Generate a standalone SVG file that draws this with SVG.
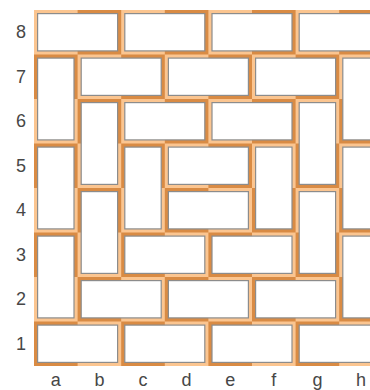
<svg xmlns="http://www.w3.org/2000/svg" width="370" height="390" viewBox="0 0 370 390">
  <defs>
    <pattern id="board" patternUnits="userSpaceOnUse" x="34" y="10" width="87.2" height="89">
      <rect x="0" y="0" width="87.2" height="89" fill="#fbc590"/>
      <rect x="43.6" y="0" width="43.6" height="44.5" fill="#d98b44"/>
      <rect x="0" y="44.5" width="43.6" height="44.5" fill="#d98b44"/>
    </pattern>
  </defs>
  <style>
    .lbl { font-family: "Liberation Sans", Arial, sans-serif; font-size: 18px; fill: #474747; text-anchor: middle; }
    .h { fill: #ffffff; stroke: #8c8c8c; stroke-width: 1.2; }
    .v { fill: #ffffff; stroke: #8c8c8c; stroke-width: 1.2; }
  </style>
  <rect id="board-bg" x="34" y="10" width="348.8" height="356" fill="url(#board)"/>
  <g id="rank-labels">
    <text class="lbl" x="21" y="38">8</text>
    <text class="lbl" x="21" y="82.5">7</text>
    <text class="lbl" x="21" y="127">6</text>
    <text class="lbl" x="21" y="171.5">5</text>
    <text class="lbl" x="21" y="216">4</text>
    <text class="lbl" x="21" y="260.5">3</text>
    <text class="lbl" x="21" y="305">2</text>
    <text class="lbl" x="21" y="349.5">1</text>
  </g>
  <g id="file-labels">
    <text class="lbl" x="55.8" y="386">a</text>
    <text class="lbl" x="99.4" y="386">b</text>
    <text class="lbl" x="143" y="386">c</text>
    <text class="lbl" x="186.6" y="386">d</text>
    <text class="lbl" x="230.2" y="386">e</text>
    <text class="lbl" x="273.8" y="386">f</text>
    <text class="lbl" x="317.4" y="386">g</text>
    <text class="lbl" x="361" y="386">h</text>
  </g>
  <g id="connectors"/>
  <g id="dominoes">
    <g id="a8-b8"><rect class="h" x="37.6" y="13.6" width="80" height="37.3"/></g>
    <g id="c8-d8"><rect class="h" x="124.8" y="13.6" width="80" height="37.3"/></g>
    <g id="e8-f8"><rect class="h" x="212" y="13.6" width="80" height="37.3"/></g>
    <g id="g8-h8"><rect class="h" x="299.2" y="13.6" width="80" height="37.3"/></g>

    <g id="a7-a6"><rect class="v" x="37.6" y="58.1" width="36.4" height="81.8"/></g>
    <g id="b7-c7"><rect class="h" x="81.2" y="58.1" width="80" height="37.3"/></g>
    <g id="d7-e7"><rect class="h" x="168.4" y="58.1" width="80" height="37.3"/></g>
    <g id="f7-g7"><rect class="h" x="255.6" y="58.1" width="80" height="37.3"/></g>
    <g id="h7-h6"><rect class="v" x="342.8" y="58.1" width="36.4" height="81.8"/></g>

    <g id="b6-b5"><rect class="v" x="81.2" y="102.6" width="36.4" height="81.8"/></g>
    <g id="c6-d6"><rect class="h" x="124.8" y="102.6" width="80" height="37.3"/></g>
    <g id="e6-f6"><rect class="h" x="212" y="102.6" width="80" height="37.3"/></g>
    <g id="g6-g5"><rect class="v" x="299.2" y="102.6" width="36.4" height="81.8"/></g>

    <g id="a5-a4"><rect class="v" x="37.6" y="147.1" width="36.4" height="81.8"/></g>
    <g id="c5-c4"><rect class="v" x="124.8" y="147.1" width="36.4" height="81.8"/></g>
    <g id="d5-e5"><rect class="h" x="168.4" y="147.1" width="80" height="37.3"/></g>
    <g id="f5-f4"><rect class="v" x="255.6" y="147.1" width="36.4" height="81.8"/></g>
    <g id="h5-h4"><rect class="v" x="342.8" y="147.1" width="36.4" height="81.8"/></g>

    <g id="b4-b3"><rect class="v" x="81.2" y="191.6" width="36.4" height="81.8"/></g>
    <g id="d4-e4"><rect class="h" x="168.4" y="191.6" width="80" height="37.3"/></g>
    <g id="g4-g3"><rect class="v" x="299.2" y="191.6" width="36.4" height="81.8"/></g>

    <g id="a3-a2"><rect class="v" x="37.6" y="236.1" width="36.4" height="81.8"/></g>
    <g id="c3-d3"><rect class="h" x="124.8" y="236.1" width="80" height="37.3"/></g>
    <g id="e3-f3"><rect class="h" x="212" y="236.1" width="80" height="37.3"/></g>
    <g id="h3-h2"><rect class="v" x="342.8" y="236.1" width="36.4" height="81.8"/></g>

    <g id="b2-c2"><rect class="h" x="81.2" y="280.6" width="80" height="37.3"/></g>
    <g id="d2-e2"><rect class="h" x="168.4" y="280.6" width="80" height="37.3"/></g>
    <g id="f2-g2"><rect class="h" x="255.6" y="280.6" width="80" height="37.3"/></g>

    <g id="a1-b1"><rect class="h" x="37.6" y="325.1" width="80" height="37.3"/></g>
    <g id="c1-d1"><rect class="h" x="124.8" y="325.1" width="80" height="37.3"/></g>
    <g id="e1-f1"><rect class="h" x="212" y="325.1" width="80" height="37.3"/></g>
    <g id="g1-h1"><rect class="h" x="299.2" y="325.1" width="80" height="37.3"/></g>
  </g>
</svg>
